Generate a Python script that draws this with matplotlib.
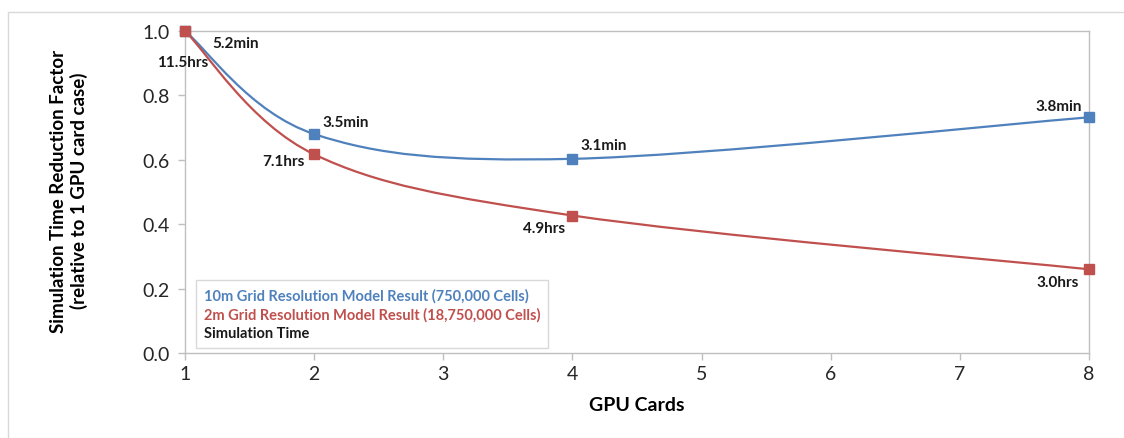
import matplotlib.pyplot as plt
import numpy as np
from matplotlib.path import Path
from matplotlib.patches import PathPatch, Rectangle

plt.rcParams['font.family'] = ['Lato', 'DejaVu Sans']

# data
gpu_cards = [1, 2, 4, 8]
factor_10m = [1.0, 0.68, 0.603, 0.732]
factor_2m = [1.0, 0.617, 0.427, 0.26]
time_10m = ["5.2min", "3.5min", "3.1min", "3.8min"]
time_2m = ["11.5hrs", "7.1hrs", "4.9hrs", "3.0hrs"]
label_10m = "10m Grid Resolution Model Result (750,000 Cells)"
label_2m = "2m Grid Resolution Model Result (18,750,000 Cells)"
label_time = "Simulation Time"

blue = "#4F81BD"
red = "#C0504D"
grey = "#BFBFBF"

fig = plt.figure(figsize=(11.24, 4.39), dpi=100)
# outer chart border (top and left visible)
fig.patches.append(Rectangle((8 / 1124, -0.1), 1.2, 1 - 13 / 439 + 0.1,
                             transform=fig.transFigure, fill=False,
                             edgecolor="#D9D9D9", linewidth=1.0))
ax = fig.add_axes([185 / 1124, 1 - 354 / 439, 904 / 1124, 322 / 439])
ax.set_xlim(1, 8)
ax.set_ylim(0, 1.0)
ax.set_xticks(range(1, 9))
ax.set_yticks(np.arange(0, 1.01, 0.2))
ax.set_yticklabels([f"{v:.1f}" for v in np.arange(0, 1.01, 0.2)])
for s in ax.spines.values():
    s.set_color(grey)
    s.set_linewidth(1.0)
ax.tick_params(axis="both", colors=grey, length=5, width=1, labelsize=14,
               labelcolor="#262626")
ax.tick_params(axis="x", pad=4)
ax.tick_params(axis="y", pad=6)


def smooth_line(xs, ys, color):
    # Excel-style smoothed line: Bezier segments computed in screen space
    pts = ax.transData.transform(np.column_stack([xs, ys]))
    n = len(pts)
    verts = [pts[0]]
    codes = [Path.MOVETO]
    for i in range(n - 1):
        p0 = pts[max(i - 1, 0)]
        p1 = pts[i]
        p2 = pts[i + 1]
        p3 = pts[min(i + 2, n - 1)]
        c1 = p1 + (p2 - p0) / 6
        c2 = p2 - (p3 - p1) / 6
        verts += [c1, c2, p2]
        codes += [Path.CURVE4] * 3
    verts = ax.transData.inverted().transform(np.array(verts))
    ax.add_patch(PathPatch(Path(verts, codes), fill=False, edgecolor=color,
                           linewidth=1.6, clip_on=False, zorder=3))


smooth_line(gpu_cards, factor_10m, blue)
smooth_line(gpu_cards, factor_2m, red)
ax.plot(gpu_cards, factor_10m, linestyle="none", marker="s", markersize=7,
        color=blue, clip_on=False, zorder=4, label=label_10m)
ax.plot(gpu_cards, factor_2m, linestyle="none", marker="s", markersize=7,
        color=red, clip_on=False, zorder=4, label=label_2m)
ax.plot([], [], linestyle="none", label=label_time)

# simulation time annotations (offsets in points)
offs_10m = [(20, -9, "left"), (6, 9, "left"), (6, 10, "left"), (-5, 8, "right")]
offs_2m = [(-2, -22, "center"), (-7, -5, "right"), (-5, -9, "right"), (-7, -9, "right")]
for x, y, t, (dx, dy, ha) in zip(gpu_cards, factor_10m, time_10m, offs_10m):
    ax.annotate(t, (x, y), xytext=(dx, dy), textcoords="offset points",
                ha=ha, va="center", fontsize=11, fontweight="bold", color="#1a1a1a")
for x, y, t, (dx, dy, ha) in zip(gpu_cards, factor_2m, time_2m, offs_2m):
    ax.annotate(t, (x, y), xytext=(dx, dy), textcoords="offset points",
                ha=ha, va="center", fontsize=11, fontweight="bold", color="#1a1a1a")

leg = ax.legend(loc="lower left", bbox_to_anchor=(0.012, 0.0155), borderaxespad=0,
                handlelength=0, handletextpad=0, markerscale=0, fancybox=False,
                edgecolor="#D9D9D9", framealpha=1, labelspacing=0.3,
                borderpad=0.55, prop={"weight": "bold", "size": 10.5},
                labelcolor=[blue, red, "#1a1a1a"])
leg.get_frame().set_linewidth(1.0)

ax.set_xlabel("GPU Cards", fontsize=14, fontweight="bold", labelpad=10)
fig.text(69 / 1124, 1 - 191 / 439, "Simulation Time Reduction Factor\n(relative to 1 GPU card case)",
         rotation=90, ha="center", va="center", fontsize=13.5, fontweight="bold",
         linespacing=1.2)

fig.savefig("out.png", dpi=100)
